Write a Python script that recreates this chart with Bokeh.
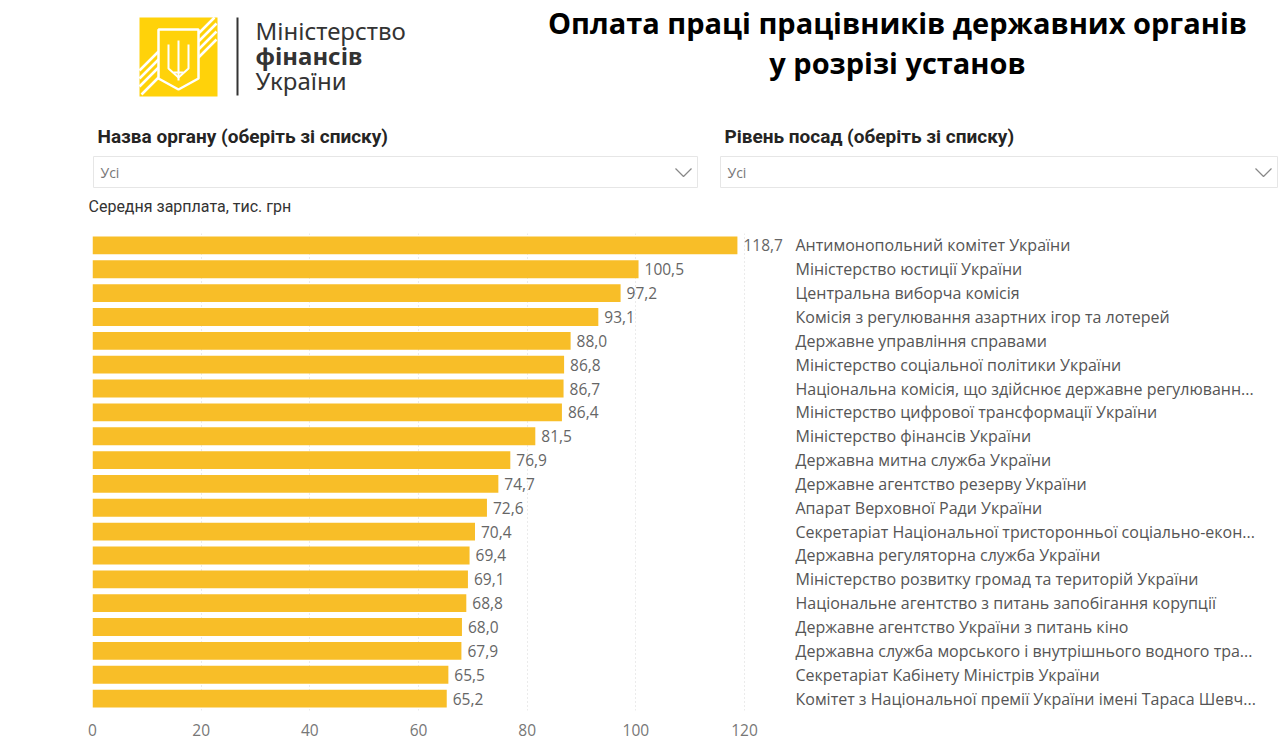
from bokeh.plotting import figure
from bokeh.models import Range1d, FactorRange, ColumnDataSource, FixedTicker
from bokeh.layouts import column
from bokeh.embed import file_html
from bokeh.resources import INLINE
from bokeh.core.properties import value

# ---------------- data ----------------
categories = [
    "Антимонопольний комітет України",
    "Міністерство юстиції України",
    "Центральна виборча комісія",
    "Комісія з регулювання азартних ігор та лотерей",
    "Державне управління справами",
    "Міністерство соціальної політики України",
    "Національна комісія, що здійснює державне регулюванн...",
    "Міністерство цифрової трансформації України",
    "Міністерство фінансів України",
    "Державна митна служба України",
    "Державне агентство резерву України",
    "Апарат Верховної Ради України",
    "Секретаріат Національної тристоронньої соціально-екон...",
    "Державна регуляторна служба України",
    "Міністерство розвитку громад та територій України",
    "Національне агентство з питань запобігання корупції",
    "Державне агентство України з питань кіно",
    "Державна служба морського і внутрішнього водного тра...",
    "Секретаріат Кабінету Міністрів України",
    "Комітет з Національної премії України імені Тараса Шевч...",
]
salaries = [118.7, 100.5, 97.2, 93.1, 88.0, 86.8, 86.7, 86.4, 81.5, 76.9,
            74.7, 72.6, 70.4, 69.4, 69.1, 68.8, 68.0, 67.9, 65.5, 65.2]
x_ticks = [0, 20, 40, 60, 80, 100, 120]

title_lines = ["Оплата праці працівників державних органів", "у розрізі установ"]
ministry_lines = ["Міністерство", "фінансів", "України"]
filter_labels = ["Назва органу (оберіть зі списку)", "Рівень посад (оберіть зі списку)"]
filter_value = "Усі"
axis_title = "Середня зарплата, тис. грн"

BAR = "#F8BE28"
LOGO = "#FFD20A"

# ---------------- header (pixel coordinates of the page) ----------------
W = 1280
H1 = 225
hdr = figure(width=W, height=H1, x_range=Range1d(0, W), y_range=Range1d(H1, 0),
             output_backend="svg", toolbar_location=None, min_border=0)
hdr.frame_align = False
hdr.axis.visible = False
hdr.grid.visible = False
hdr.outline_line_color = None
hdr.background_fill_color = "white"

# logo
hdr.quad(left=[139], right=[217], top=[17], bottom=[96], fill_color=LOGO, line_color=None)
hdr.multi_line(xs=[[198, 214], [198, 216], [198, 216], [198, 216]],
               ys=[[33, 17], [41, 23], [49, 31], [57, 39]], line_color="white", line_width=2.5)
hdr.multi_line(xs=[[139, 158], [139, 158], [139, 158], [141, 158]],
               ys=[[70, 51], [78, 59], [86, 67], [94, 77]], line_color="white", line_width=2.5)
hdr.patch(x=[158, 198, 198, 178, 158], y=[29, 29, 78, 89, 78], fill_color=LOGO,
          line_color="white", line_width=2.5)
hdr.multi_line(xs=[[178, 178], [168, 168, 178], [188, 188, 178], [173, 183]],
               ys=[[40, 80], [44, 68, 77], [44, 68, 77], [72, 72]], line_color="white", line_width=2)
hdr.segment(x0=[237], y0=[17], x1=[237], y1=[95], line_color="#333333", line_width=2)
for i, (t, st) in enumerate(zip(ministry_lines, ["normal", "bold", "normal"])):
    hdr.text(x=[255], y=[30 + 25 * i], text=[t], text_font=value("Noto Sans"),
             text_font_size="24px", text_font_style=st, text_color="#333333",
             text_baseline="middle", text_align="left")

# title
for i, t in enumerate(title_lines):
    hdr.text(x=[897], y=[22 + 40 * i], text=[t], text_font=value("Open Sans"),
             text_font_size="29px", text_font_style="bold", text_color="#000000",
             text_baseline="middle", text_align="center")

# filters
filters = [(97, 93, 697, 683), (724, 720, 1277, 1263)]
for (lx, bl, br, cx), lab in zip(filters, filter_labels):
    hdr.text(x=[lx], y=[136], text=[lab], text_font=value("Roboto"), text_font_size="19px",
             text_font_style="bold", text_color="#252423", text_baseline="middle", text_align="left")
    hdr.quad(left=[bl], right=[br], top=[156], bottom=[187], fill_color="white",
             line_color="#E6E6E6", line_width=1)
    hdr.text(x=[bl + 7], y=[172], text=[filter_value], text_font=value("Open Sans"),
             text_font_size="14px", text_color="#777777", text_baseline="middle", text_align="left")
    hdr.line(x=[cx - 8, cx, cx + 8], y=[168, 176, 168], line_color="#888888", line_width=1.2)

hdr.text(x=[88], y=[206], text=[axis_title], text_font=value("Roboto"), text_font_size="16px",
         text_color="#333333", text_baseline="middle", text_align="left")

# ---------------- bar chart ----------------
labels = [f"{v:.1f}".replace(".", ",") for v in salaries]
src = ColumnDataSource(dict(cat=categories, val=salaries, lbl=labels))

p = figure(width=W, height=519, x_range=Range1d(0, 127.55),
           y_range=FactorRange(*categories[::-1]), y_axis_location="right",
           output_backend="svg", toolbar_location=None,
           min_border_left=92, min_border_right=495, min_border_top=8, min_border_bottom=34)
p.frame_align = False
p.outline_line_color = None
p.background_fill_color = "white"

p.hbar(y="cat", left=0, right="val", height=0.75, source=src, fill_color=BAR, line_color=None)
p.text(x="val", y="cat", text="lbl", source=src, x_offset=6, text_align="left",
       text_baseline="middle", text_font=value("Open Sans"), text_font_size="15.5px",
       text_color="#666666")

p.xaxis.ticker = FixedTicker(ticks=x_ticks)
p.xaxis.axis_line_color = None
p.xaxis.major_tick_line_color = None
p.xaxis.minor_tick_line_color = None
p.xaxis.major_tick_out = 0
p.xaxis.major_label_standoff = 13
p.xaxis.major_label_text_font = "Open Sans"
p.xaxis.major_label_text_font_size = "15.5px"
p.xaxis.major_label_text_color = "#777777"

p.yaxis.axis_line_color = None
p.yaxis.major_tick_line_color = None
p.yaxis.minor_tick_line_color = None
p.yaxis.major_tick_out = 0
p.yaxis.major_label_standoff = 10
p.yaxis.major_label_text_font = "Open Sans"
p.yaxis.major_label_text_font_size = "16px"
p.yaxis.major_label_text_color = "#555555"

p.ygrid.grid_line_color = None
p.xgrid.ticker = FixedTicker(ticks=x_ticks)
p.xgrid.grid_line_color = "#D6D6D6"
p.xgrid.grid_line_dash = "1 3"

layout = column(hdr, p, spacing=0)
open("out.html", "w").write(file_html(layout, INLINE))
